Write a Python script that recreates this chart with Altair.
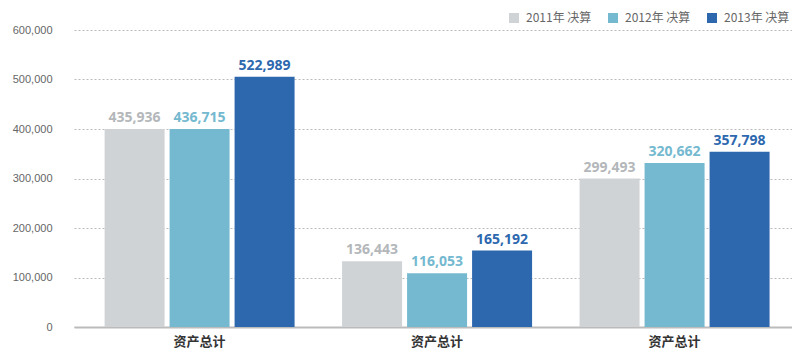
import altair as alt
import pandas as pd

groups = ["g1", "g2", "g3"]
group_names = ["资产总计", "资产总计", "资产总计"]
years = ["2011年 决算", "2012年 决算", "2013年 决算"]
# bar heights as drawn in the picture
heights = [
    [400000, 400000, 505500],
    [133000, 108500, 154500],
    [300000, 331500, 353800],
]
# printed labels
labels = [
    ["435,936", "436,715", "522,989"],
    ["136,443", "116,053", "165,192"],
    ["299,493", "320,662", "357,798"],
]
bar_colors = ["#D0D3D6", "#74B9D0", "#2D68AF"]
text_colors = ["#B4B7BA", "#74B9D0", "#2D68AF"]
y_ticks = [0, 100000, 200000, 300000, 400000, 500000, 600000]

rows = []
for gi, g in enumerate(groups):
    for yi, yr in enumerate(years):
        rows.append({"group": g, "year": yr, "value": heights[gi][yi], "label": labels[gi][yi]})
df = pd.DataFrame(rows)

label_expr = "{" + ",".join(f"'{g}':'{n}'" for g, n in zip(groups, group_names)) + "}[datum.value]"

x = alt.X("group:N", sort=groups,
          scale=alt.Scale(paddingInner=0.2, paddingOuter=0.1116, align=0.577),
          axis=alt.Axis(title=None, labelExpr=label_expr, labelAngle=0, ticks=False,
                        domainColor="#BBBBBB", domainWidth=2, labelPadding=8,
                        labelFont="Noto Sans CJK SC", labelFontSize=13, labelFontWeight="bold",
                        labelColor="#333333"))
xo = alt.XOffset("year:N", sort=years, scale=alt.Scale(paddingInner=0.077, paddingOuter=0))

base = alt.Chart(df)

bars = base.mark_bar().encode(
    x=x, xOffset=xo,
    y=alt.Y("value:Q", scale=alt.Scale(domain=[0, 600000], nice=False),
            axis=alt.Axis(title=None, values=y_ticks, format=",d", domain=False, ticks=False,
                          labelPadding=22, labelFont="Liberation Sans", labelFontSize=11,
                          labelColor="#666666", gridDash=[2, 2], gridColor="#BBBBBB")),
    color=alt.Color("year:N", sort=years,
                    scale=alt.Scale(domain=years, range=bar_colors),
                    legend=alt.Legend(title=None, orient="none", legendX=434, legendY=-18,
                                      direction="horizontal", symbolType="square",
                                      symbolSize=100, symbolStrokeWidth=0, labelFontSize=12,
                                      labelFont="Noto Sans CJK SC", labelColor="#666666",
                                      columnPadding=15, labelOffset=6)),
)

text = base.mark_text(baseline="bottom", dy=-4, font="Noto Sans", fontSize=14, fontWeight="bold").encode(
    x=x, xOffset=xo, y="value:Q", text="label:N",
    color=alt.Color("year:N", sort=years, scale=alt.Scale(domain=years, range=text_colors), legend=None),
)

chart = alt.layer(bars, text).resolve_scale(color="independent").properties(
    width=718, height=297,
    autosize=alt.AutoSizeParams(type="none"),
    padding={"left": 66, "top": 22, "right": 0, "bottom": 26},
).configure_view(stroke=None)

chart.save("out.html", embed_options={"renderer": "svg", "actions": False})
